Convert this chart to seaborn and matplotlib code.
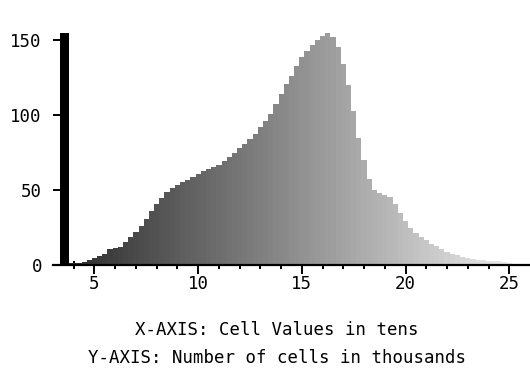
import numpy as np
import matplotlib
matplotlib.use("Agg")
import matplotlib.pyplot as plt
import seaborn as sns

# ---- data ----
nodata_edges = [3.35, 3.75]
nodata_count = [155]
cell_values = [4.0 + 0.25 * i for i in range(85)]  # bin centers (tens)
cell_counts = [
    1.5, 1.5, 2, 3.5, 4.5, 6, 7.5, 10.5, 11.5, 12,
    15.5, 19, 22, 26, 31, 36, 40.5, 45, 49, 51.5,
    53.5, 55.5, 57, 58.5, 60.5, 62.5, 64, 65.5, 67, 69.5,
    72, 75, 78, 80.5, 84, 87.5, 92, 96, 101, 107.5,
    114, 121, 126, 133, 138.5, 143, 146.5, 150, 152.5, 154.5,
    152, 145.5, 134, 120, 103, 85, 70, 57.5, 50, 48,
    46.5, 45.5, 40.5, 35, 29.5, 24.5, 21.5, 19, 16.5, 14,
    12.5, 10.5, 9, 7.5, 6.5, 5.5, 4.5, 4, 3.5, 3.2,
    3, 2.8, 2.6, 2.2, 1.5,
]
x_major = [5, 10, 15, 20, 25]
y_major = [0, 50, 100, 150]

sns.set_style("white")
plt.rcParams["font.family"] = ["DejaVu Sans Mono", "DejaVu Sans"]
plt.rcParams["text.color"] = "black"
plt.rcParams["xtick.color"] = "black"
plt.rcParams["ytick.color"] = "black"

fig = plt.figure(figsize=(5.3, 3.75), dpi=100)
ax = fig.add_axes([53 / 530, 110 / 375, 477 / 530, 240 / 375])

xs = [np.mean(nodata_edges)] + cell_values
ws = nodata_count + cell_counts
edges = nodata_edges + [c + 0.125 for c in cell_values]
sns.histplot(x=xs, weights=ws, bins=edges, ax=ax, element="bars",
             linewidth=0, alpha=1)

for i, p in enumerate(ax.patches):
    if i == 0:
        p.set_facecolor("black")
    else:
        cx = p.get_x() + p.get_width() / 2
        g = 0.2 + (cx - 4.5) / 20.5 * 0.72
        g = min(max(g, 0.15), 0.93)
        p.set_facecolor((g, g, g))
    p.set_edgecolor("none")

ax.set_xlim(3.0, 26.0)
ax.set_ylim(0, 160)
ax.set_xlabel("")
ax.set_ylabel("")

for s in ["left", "top", "right"]:
    ax.spines[s].set_visible(False)
ax.spines["bottom"].set_linewidth(1.6)
ax.spines["bottom"].set_color("black")

ax.set_xticks(x_major)
ax.set_xticks(range(4, 26), minor=True)
ax.set_yticks(y_major)
ax.tick_params(axis="x", which="major", direction="out", length=6.5,
               width=1.4, color="black", labelcolor="black", pad=1,
               labelsize=12.5, bottom=True)
ax.tick_params(axis="x", which="minor", direction="inout", length=5.5,
               width=1.4, color="black", bottom=True)
ax.tick_params(axis="y", which="major", direction="in", length=5.5,
               width=1.4, color="black", labelcolor="black", pad=8,
               labelsize=12.5, left=True)

fig.text(277 / 530, 1 - 330 / 375, "X-AXIS: Cell Values in tens",
         ha="center", va="center", fontsize=12.5, color="black")
fig.text(277 / 530, 1 - 358 / 375, "Y-AXIS: Number of cells in thousands",
         ha="center", va="center", fontsize=12.5, color="black")

fig.savefig("out.png", dpi=100)
